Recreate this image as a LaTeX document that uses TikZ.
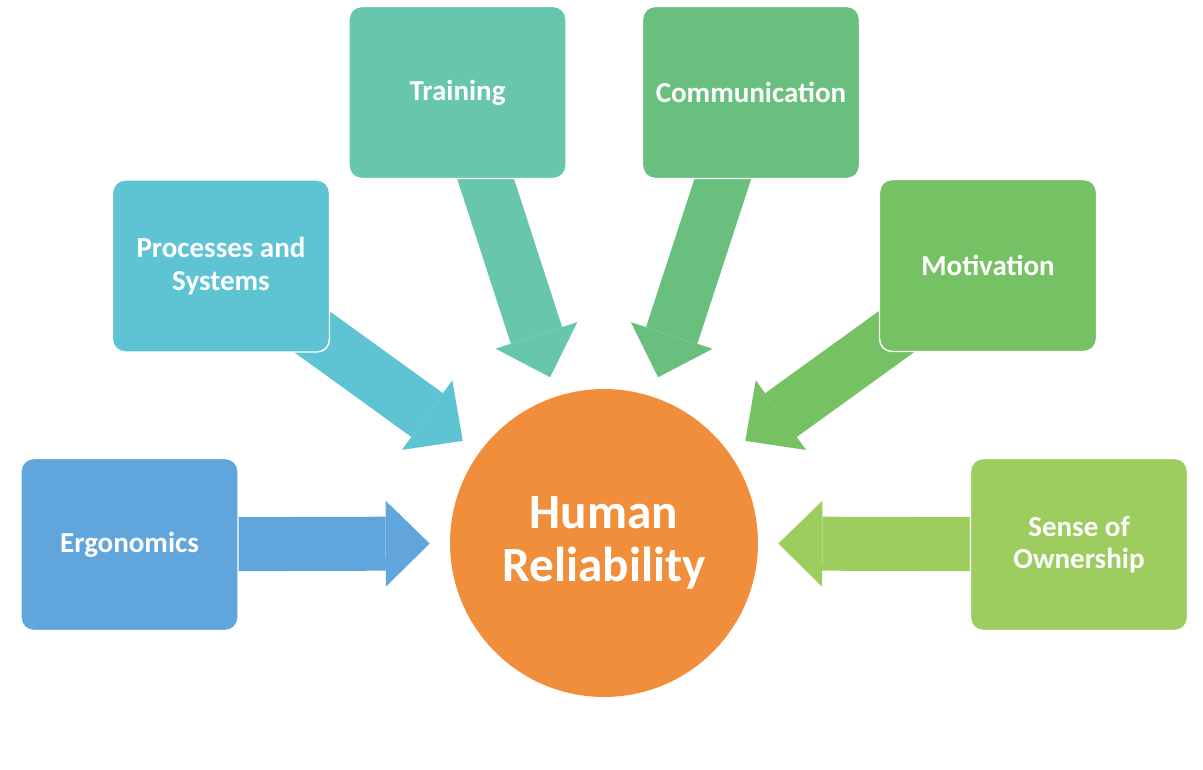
\documentclass[tikz,border=0pt]{standalone}
\usepackage{fontspec}
\setmainfont{Carlito}
\usetikzlibrary{arrows.meta}
\usetikzlibrary{backgrounds}

\definecolor{ergoblue}{RGB}{96,166,220}
\definecolor{proccyan}{RGB}{94,196,212}
\definecolor{trainteal}{RGB}{103,198,171}
\definecolor{commgreen}{RGB}{105,192,126}
\definecolor{motivgreen}{RGB}{117,193,100}
\definecolor{ownergreen}{RGB}{157,204,95}
\definecolor{huborange}{RGB}{240,142,60}

\begin{document}
\begin{tikzpicture}[x=0.02cm,y=-0.02cm,
  factor/.style={rectangle,rounded corners=0.25cm,draw=white,line width=0.8pt,
    minimum width=4.34cm,minimum height=3.44cm,align=center,text=white,
    font=\fontsize{16.5}{18.5}\selectfont\bfseries},
  flow/.style={line width=1.08cm,draw=#1,shorten >=0.4cm,
    -{Triangle[width=1.72cm,length=0.88cm,line width=0pt,fill=#1]}}]
\useasboundingbox (0,0) rectangle (1203,770);

\node[circle,fill=huborange,minimum size=6.16cm,inner sep=0pt,align=center,text=white,
  font=\fontsize{28}{30}\selectfont\bfseries] (hub) at (604,543) {Human\\Reliability};

\node[factor,fill=ergoblue] (ergo) at (129.5,544.5) {Ergonomics};
\node[factor,fill=proccyan] (procsys) at (221,266) {Processes and\\Systems};
\node[factor,fill=trainteal] (train) at (457.5,92.5) {Training};
\node[factor,fill=commgreen] (comm) at (751,92.5) {Communication};
\node[factor,fill=motivgreen] (motiv) at (988,265.5) {Motivation};
\node[factor,fill=ownergreen] (owner) at (1079,544.5) {Sense of\\Ownership};

% block arrows behind the boxes
\begin{scope}[on background layer]
\draw[flow=ergoblue] (ergo.center) -- (hub);
\draw[flow=proccyan] (procsys.center) -- (hub);
\draw[flow=trainteal] (train.center) -- (hub);
\draw[flow=commgreen] (comm.center) -- (hub);
\draw[flow=motivgreen] (motiv.center) -- (hub);
\draw[flow=ownergreen] (owner.center) -- (hub);
\end{scope}

\end{tikzpicture}
\end{document}
